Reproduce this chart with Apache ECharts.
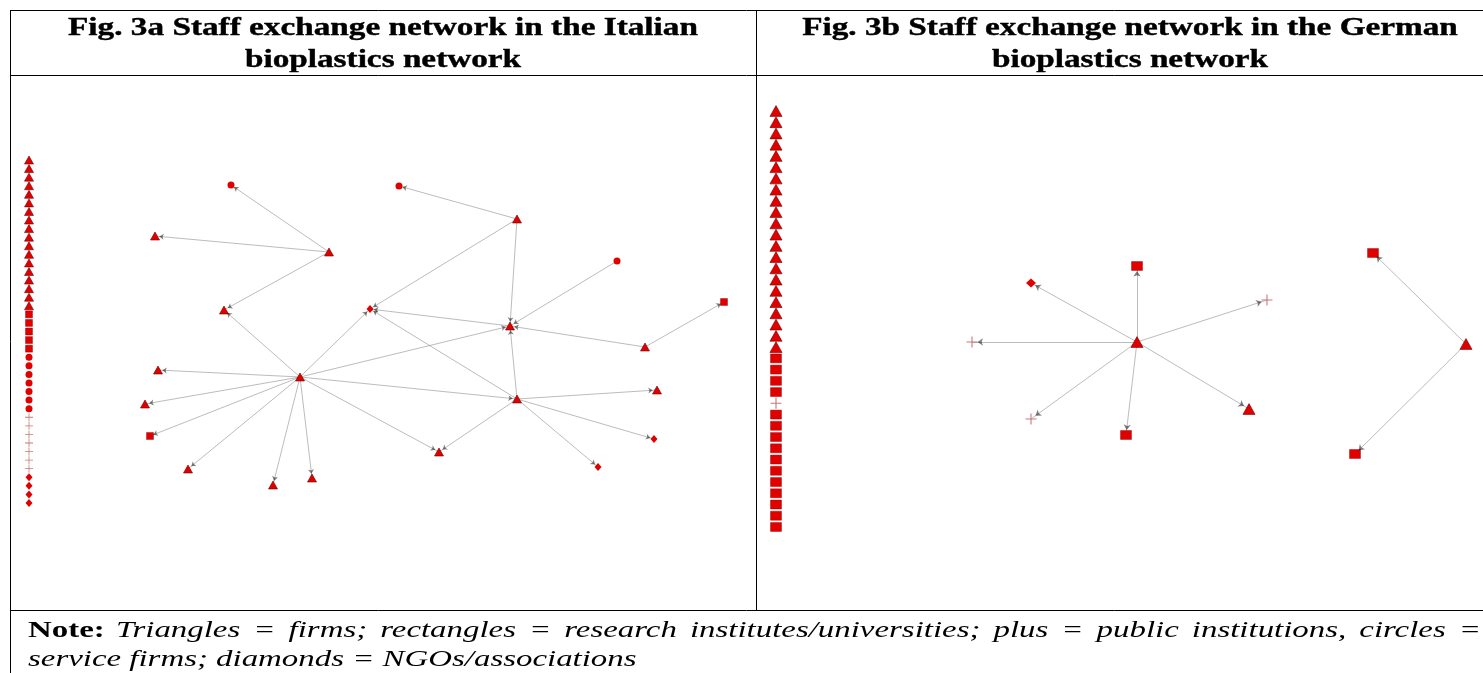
<!DOCTYPE html>
<html><head><meta charset="utf-8">
<script src="https://cdn.jsdelivr.net/npm/echarts@6/dist/echarts.min.js"></script>
<style>html,body{margin:0;padding:0;background:#fff}#c{width:1483px;height:673px}</style>
</head><body><div id="c"></div><script>
// ---------- texts ----------
const titleA = ['Fig. 3a Staff exchange network in the Italian', 'bioplastics network'];
const titleB = ['Fig. 3b Staff exchange network in the German', 'bioplastics network'];
const noteLabel = 'Note:';
const noteLine1 = 'Triangles = firms; rectangles = research institutes/universities; plus = public institutions, circles =';
const noteLine2 = 'service firms; diamonds = NGOs/associations';

// ---------- Italian network (layout units) ----------
const itNodeTypes = ['C','C','T','T','T','C','S','T','D','T','T','T','T','T','T','T','S','D','T','T','D','T','T'];
const itNodeX = [231,399,517,155,329,617,724,224,370,510,645,158,300,657,145,517,150,654,439,188,598,273,312];
const itNodeY = [185,186,219,236,252,261,302,310,309,326,347,370,377,390,404,399,436,439,452,469,467,485,478];
const itLinkSource = [4,4,4,2,2,2,5,10,10,9,12,12,12,12,12,12,12,12,12,12,12,15,15,15,15,15,15];
const itLinkTarget = [0,3,7,1,9,8,9,9,6,8,9,8,7,11,14,16,19,21,22,18,15,9,8,13,17,20,18];
const itIsolates = ['T','T','T','T','T','T','T','T','T','T','T','T','T','T','T','T','T','T',
  'S','S','S','S','S','C','C','C','C','C','C','C','P','P','P','P','P','P','P','D','D','D','D'];

// ---------- German network (layout units) ----------
const deNodeTypes = ['T','S','D','P','P','P','S','T','S','T','S'];
const deNodeX = [1137,1137,1031,1267,972,1031,1126,1249,1373,1466,1355];
const deNodeY = [342,266,283,300,342,419,435,409,253,344,454];
const deLinkSource = [0,0,0,0,0,0,0,9,9];
const deLinkTarget = [1,2,3,4,5,6,7,8,10];
const deIsolates = ['T','T','T','T','T','T','T','T','T','T','T','T','T','T','T','T','T','T','T','T','T','T',
  'S','S','S','S','P','S','S','S','S','S','S','S','S','S','S','S'];

// ---------- styles ----------
const RED = '#e00000';
const PLUS = 'path://M4.5,0h1v4.5h4.5v1h-4.5v4.5h-1v-4.5h-4.5v-1h4.5z';
function sym(type, big) {
  const k = big ? 1.35 : 1;
  if (type === 'T') return {symbol: 'triangle', symbolSize: [9*k, 8*k], itemStyle: {color: RED, borderColor: '#6e0000', borderWidth: 0.6, opacity: 1}};
  if (type === 'S') return {symbol: 'rect', symbolSize: big ? [11, 9] : [7, 7], itemStyle: {color: RED, borderColor: '#8a0000', borderWidth: 0.4, opacity: 1}};
  if (type === 'C') return {symbol: 'circle', symbolSize: 7*k, itemStyle: {color: RED, opacity: 1}};
  if (type === 'D') return {symbol: 'diamond', symbolSize: big ? [10, 9] : [7, 8], itemStyle: {color: RED, opacity: 1}};
  return {symbol: PLUS, symbolSize: big ? 11 : 8, itemStyle: {color: '#c87878', opacity: 1}};
}
function nodes(types, xs, ys, big, hidden) {
  return types.map((t, i) => {
    const s = sym(t, big);
    const it = Object.assign({}, s.itemStyle);
    if (hidden) it.opacity = 0;
    return {name: 'n' + i, value: [xs[i], ys[i]], symbol: s.symbol, symbolSize: s.symbolSize, itemStyle: it};
  });
}
function links(src, tgt) { return src.map((s, i) => ({source: 'n' + s, target: 'n' + tgt[i]})); }
function isoData(list, big) {
  return list.map((t, i) => {
    const s = sym(t, big);
    return {value: [0, i], symbol: s.symbol, symbolSize: s.symbolSize, itemStyle: s.itemStyle};
  });
}

const chart = echarts.init(document.getElementById('c'), null, {renderer: 'canvas'});

// ---------- note justification ----------
const SX_NOTE = 1.37, SX_TITLE = 1.33;
const NOTE_FONT = 'italic 24px "Liberation Serif"';
const ctx = document.createElement('canvas').getContext('2d');
ctx.font = NOTE_FONT;
const words = noteLine1.split(' ');
const widths = words.map(w => ctx.measureText(w).width * SX_NOTE);
const startX = 116, endX = 1481;
const gap = (endX - startX - widths.reduce((a, b) => a + b, 0)) / (words.length - 1);
const noteWords = [];
let cx = startX;
words.forEach((w, i) => {
  noteWords.push({type: 'text', x: cx, y: 631, scaleX: SX_NOTE, style: {text: w, font: NOTE_FONT, fill: '#000', textAlign: 'left', textVerticalAlign: 'middle'}});
  cx += widths[i] + gap;
});

function hline(x1, x2, y) { return {type: 'line', shape: {x1: x1, y1: y, x2: x2, y2: y}, style: {stroke: '#000', lineWidth: 1}}; }
function vline(x, y1, y2) { return {type: 'line', shape: {x1: x, y1: y1, x2: x, y2: y2}, style: {stroke: '#000', lineWidth: 1}}; }
const TITLE_FONT = 'bold 25px "Liberation Serif"';
function ttext(t, x, y) { return {type: 'text', x: x, y: y, scaleX: SX_TITLE, style: {text: t, font: TITLE_FONT, fill: '#000', textAlign: 'center', textVerticalAlign: 'middle', stroke: '#000', lineWidth: 0.4}}; }

const graphics = [
  hline(10, 1483, 10.5), hline(10, 1483, 75.5), hline(10, 1483, 610.5),
  vline(10.5, 10, 673), vline(756.5, 10, 610),
  ttext(titleA[0], 383, 29), ttext(titleA[1], 383, 61),
  ttext(titleB[0], 1130, 29), ttext(titleB[1], 1130, 61),
  {type: 'text', x: 28, y: 631, scaleX: SX_NOTE, style: {text: noteLabel, font: 'bold 24px "Liberation Serif"', fill: '#000', textVerticalAlign: 'middle'}},
  {type: 'text', x: 28, y: 660, scaleX: SX_NOTE, style: {text: noteLine2, font: NOTE_FONT, fill: '#000', textVerticalAlign: 'middle'}}
].concat(noteWords);

const edgeStyle = {color: '#7a7a7a', width: 1, curveness: 0};
const arrowStyle = {color: '#000', width: 0, curveness: 0};

chart.setOption({
  animation: false,
  grid: [
    {left: 10, top: 75, width: 746, height: 535},
    {left: 756, top: 75, width: 727, height: 535},
    {left: 24, top: 160, width: 10, height: 343},
    {left: 771, top: 111, width: 10, height: 416}
  ],
  xAxis: [
    {type: 'value', gridIndex: 0, min: 10, max: 756, show: false},
    {type: 'value', gridIndex: 1, min: 756, max: 1483, show: false},
    {type: 'value', gridIndex: 2, min: -1, max: 1, show: false},
    {type: 'value', gridIndex: 3, min: -1, max: 1, show: false}
  ],
  yAxis: [
    {type: 'value', gridIndex: 0, min: 75, max: 610, inverse: true, show: false},
    {type: 'value', gridIndex: 1, min: 75, max: 610, inverse: true, show: false},
    {type: 'category', gridIndex: 2, data: itIsolates.map((t, i) => 'it' + i), boundaryGap: false, inverse: true, show: false},
    {type: 'category', gridIndex: 3, data: deIsolates.map((t, i) => 'de' + i), boundaryGap: false, inverse: true, show: false}
  ],
  series: [
    {type: 'graph', coordinateSystem: 'cartesian2d', xAxisIndex: 0, yAxisIndex: 0, silent: true, z: 2,
     data: nodes(itNodeTypes, itNodeX, itNodeY, false, false), links: links(itLinkSource, itLinkTarget),
     edgeSymbol: ['none', 'none'], lineStyle: edgeStyle},
    {type: 'graph', coordinateSystem: 'cartesian2d', xAxisIndex: 0, yAxisIndex: 0, silent: true, z: 3,
     data: nodes(itNodeTypes, itNodeX, itNodeY, false, true), links: links(itLinkSource, itLinkTarget),
     edgeSymbol: ['none', 'arrow'], edgeSymbolSize: [0, 4.5], lineStyle: arrowStyle},
    {type: 'graph', coordinateSystem: 'cartesian2d', xAxisIndex: 1, yAxisIndex: 1, silent: true, z: 2,
     data: nodes(deNodeTypes, deNodeX, deNodeY, true, false), links: links(deLinkSource, deLinkTarget),
     edgeSymbol: ['none', 'none'], lineStyle: edgeStyle},
    {type: 'graph', coordinateSystem: 'cartesian2d', xAxisIndex: 1, yAxisIndex: 1, silent: true, z: 3,
     data: nodes(deNodeTypes, deNodeX, deNodeY, true, true), links: links(deLinkSource, deLinkTarget),
     edgeSymbol: ['none', 'arrow'], edgeSymbolSize: [0, 5.5], lineStyle: arrowStyle},
    {type: 'scatter', xAxisIndex: 2, yAxisIndex: 2, silent: true, data: isoData(itIsolates, false)},
    {type: 'scatter', xAxisIndex: 3, yAxisIndex: 3, silent: true, data: isoData(deIsolates, true)}
  ],
  graphic: graphics
});
</script></body></html>
